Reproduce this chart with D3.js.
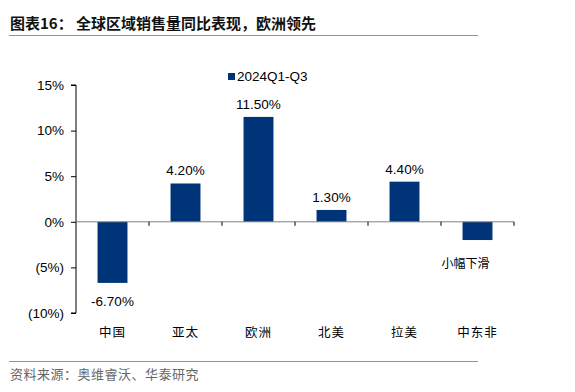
<!DOCTYPE html>
<html>
<head>
<meta charset="utf-8">
<script src="https://cdn.jsdelivr.net/npm/d3@7"></script>
<style>
  body { margin: 0; background: #fff; }
  svg { display: block; }
</style>
</head>
<body>
<script>
// chart data
const regions = ["中国", "亚太", "欧洲", "北美", "拉美", "中东非"];
const growth = [-6.7, 4.2, 11.5, 1.3, 4.4, -2.0];
const yTicks = [15, 10, 5, 0, -5, -10];
const seriesName = "2024Q1-Q3";
const noteText = "小幅下滑";

const W = 575, H = 392;
const barColor = "#003478";
const numFont = "'Liberation Sans', Arial, sans-serif";
const cjkFont = "'Noto Sans CJK SC', sans-serif";

const svg = d3.select("body").append("svg")
  .attr("width", W)
  .attr("height", H);

// header
svg.append("text")
  .attr("x", 10).attr("y", 29)
  .attr("font-family", cjkFont)
  .attr("font-weight", "bold")
  .attr("font-size", 15)
  .attr("fill", "#111")
  .text("图表16：  全球区域销售量同比表现，欧洲领先");

svg.append("line")
  .attr("x1", 9).attr("x2", 478)
  .attr("y1", 35.5).attr("y2", 35.5)
  .attr("stroke", "#7f97ad").attr("stroke-width", 1);

// scales
const x = d3.scaleBand()
  .domain(regions)
  .range([76, 514])
  .paddingInner(0.59)
  .paddingOuter(0.295);

const y = d3.scaleLinear()
  .domain([-10, 15])
  .range([313, 85]);

// y axis
const yAxis = svg.append("g")
  .attr("transform", "translate(76,0)")
  .call(d3.axisLeft(y)
    .tickValues(yTicks)
    .tickSize(5)
    .tickPadding(7)
    .tickFormat(d => d < 0 ? `(${-d}%)` : `${d}%`));
yAxis.select(".domain").attr("stroke", "#000").attr("d", `M-5,${y(15)}H0V${y(-10)}H-5`);
yAxis.selectAll(".tick line").attr("stroke", "#000");
yAxis.selectAll(".tick text")
  .attr("font-family", numFont)
  .attr("font-size", 13.5)
  .attr("fill", "#000");

// bars
svg.selectAll("rect.bar")
  .data(growth)
  .enter()
  .append("rect")
  .attr("class", "bar")
  .attr("x", (d, i) => x(regions[i]))
  .attr("width", x.bandwidth())
  .attr("y", d => y(Math.max(0, d)))
  .attr("height", d => Math.abs(y(d) - y(0)))
  .attr("fill", barColor);

// zero line with category ticks
const step = x.step();
svg.append("line")
  .attr("x1", 76).attr("x2", 514)
  .attr("y1", y(0)).attr("y2", y(0))
  .attr("stroke", "#808080").attr("stroke-width", 1);

svg.selectAll("line.ctick")
  .data(d3.range(1, regions.length + 1))
  .enter()
  .append("line")
  .attr("class", "ctick")
  .attr("x1", i => 76 + i * step).attr("x2", i => 76 + i * step)
  .attr("y1", y(0)).attr("y2", y(0) + 4)
  .attr("stroke", "#000");

// value labels
svg.selectAll("text.val")
  .data(growth.slice(0, 5))
  .enter()
  .append("text")
  .attr("class", "val")
  .attr("x", (d, i) => x(regions[i]) + x.bandwidth() / 2)
  .attr("y", d => d >= 0 ? y(d) - 8 : y(d) + 23)
  .attr("text-anchor", "middle")
  .attr("font-family", numFont)
  .attr("font-size", 13.5)
  .attr("fill", "#000")
  .text(d => d.toFixed(2) + "%");

// note for the last bar
svg.append("text")
  .attr("x", x(regions[5]) + x.bandwidth() / 2 - 12)
  .attr("y", y(growth[5]) + 28)
  .attr("text-anchor", "middle")
  .attr("font-family", cjkFont)
  .attr("font-size", 12)
  .attr("fill", "#000")
  .text(noteText);

// category labels
svg.selectAll("text.cat")
  .data(regions)
  .enter()
  .append("text")
  .attr("class", "cat")
  .attr("x", d => x(d) + x.bandwidth() / 2)
  .attr("y", 337)
  .attr("text-anchor", "middle")
  .attr("font-family", cjkFont)
  .attr("font-size", 12.5)
  .attr("letter-spacing", 1)
  .attr("fill", "#000")
  .text(d => d);

// legend
svg.append("rect")
  .attr("x", 228).attr("y", 73)
  .attr("width", 7).attr("height", 7)
  .attr("fill", barColor);
svg.append("text")
  .attr("x", 237).attr("y", 81)
  .attr("font-family", numFont)
  .attr("font-size", 13.5)
  .attr("fill", "#000")
  .text(seriesName);

// footer
svg.append("line")
  .attr("x1", 9).attr("x2", 478)
  .attr("y1", 361.5).attr("y2", 361.5)
  .attr("stroke", "#7f97ad").attr("stroke-width", 1);

svg.append("text")
  .attr("x", 10).attr("y", 379)
  .attr("font-family", cjkFont)
  .attr("font-size", 13)
  .attr("letter-spacing", 0.5)
  .attr("fill", "#666")
  .text("资料来源：奥维睿沃、华泰研究");
</script>
</body>
</html>
